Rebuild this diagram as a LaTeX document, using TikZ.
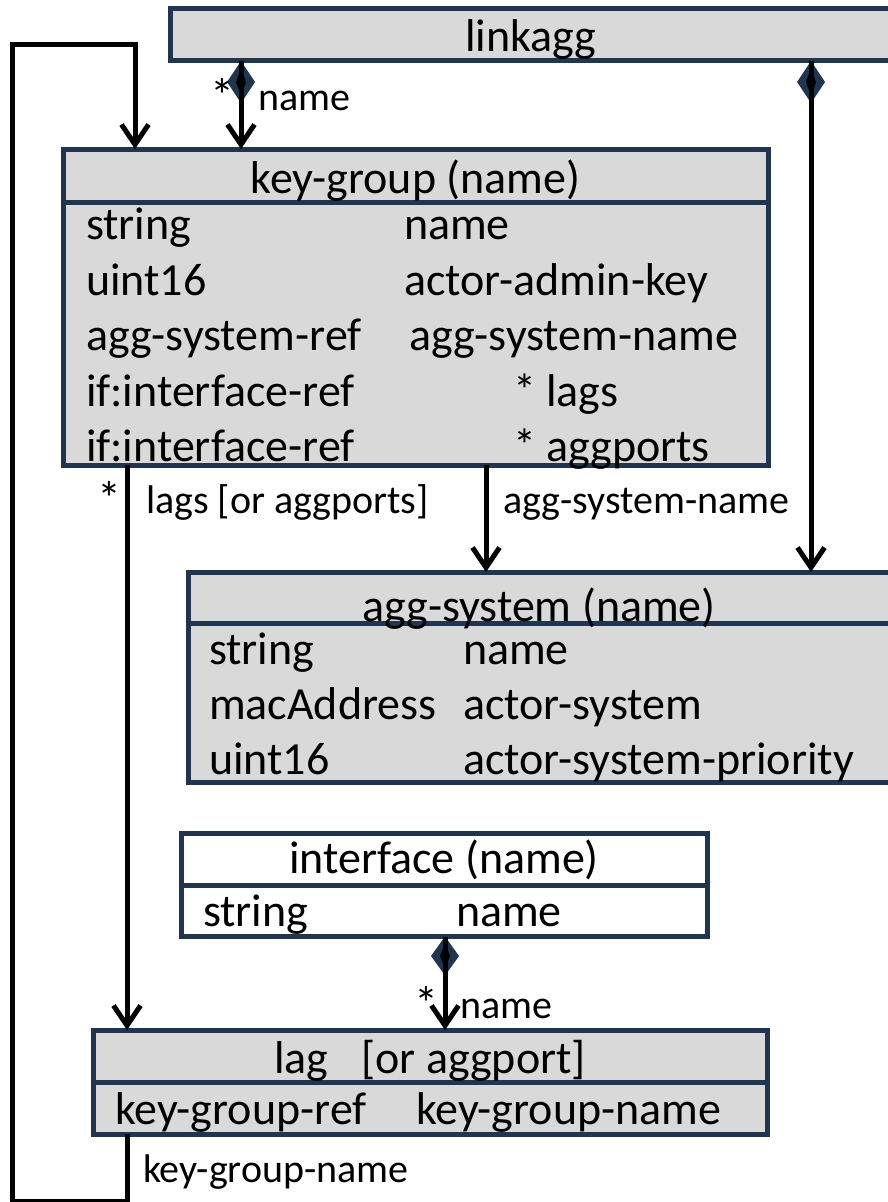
\documentclass[tikz,border=0pt]{standalone}
\usepackage{fontspec}
\setmainfont{Carlito}
\usetikzlibrary{arrows.meta,shapes.geometric}
\definecolor{navy}{RGB}{31,53,80}
\definecolor{boxgray}{RGB}{217,217,217}
\begin{document}
\begin{tikzpicture}[x=1pt,y=-1pt,
  box/.style={draw=navy, line width=5pt, fill=boxgray, anchor=north west, inner sep=0pt, outer sep=0pt},
  wbox/.style={box, fill=white},
  txt/.style={font=\fontsize{46}{50}\selectfont, anchor=base west, inner sep=0pt, outer sep=0pt},
  ctxt/.style={font=\fontsize{46}{50}\selectfont, anchor=base, inner sep=0pt, outer sep=0pt},
  lbl/.style={font=\fontsize{40}{44}\selectfont, anchor=base west, inner sep=0pt, outer sep=0pt},
  star/.style={font=\fontsize{48}{50}\selectfont, anchor=base west, inner sep=0pt, outer sep=0pt},
  conn/.style={draw=black, line width=5pt},
  arr/.style={conn, -{Straight Barb[length=20pt,width=27pt]}},
  comp/.style={diamond, fill=navy, inner sep=0pt, outer sep=0pt, minimum width=28pt, minimum height=42pt},
  compin/.style={diamond, fill=black, inner sep=0pt, outer sep=0pt, minimum width=10pt, minimum height=28pt},
]
\useasboundingbox (0,0) rectangle (888,1202);

% boxes
\node[box, minimum width=722pt, minimum height=51.5pt] (la) at (170,8.5) {};
\node[box, minimum width=705pt, minimum height=53pt] (kg) at (63,149) {};
\node[box, minimum width=705pt, minimum height=263pt] (kgb) at (63,202) {};
\node[box, minimum width=704pt, minimum height=51pt] (ash) at (188,572) {};
\node[box, minimum width=704pt, minimum height=159pt] (asb) at (188,623) {};
\node[wbox, minimum width=526pt, minimum height=52pt] (ifh) at (181,833) {};
\node[wbox, minimum width=526pt, minimum height=51pt] (ifb) at (181,885) {};
\node[box, minimum width=674pt, minimum height=52pt] (lag) at (93,1030) {};
\node[box, minimum width=674pt, minimum height=52pt] (lagb) at (93,1082) {};

% texts
\node[ctxt] (tla) at (531,51) {linkagg};
\node[ctxt] (tkg) at (415.5,193) {key-group (name)};
\node[txt] (k1a) at (86,239) {string};
\node[txt] (k1b) at (404,239) {name};
\node[txt] (k2a) at (86,295) {uint16};
\node[txt] (k2b) at (404,295) {actor-admin-key};
\node[txt] (k3a) at (86,350) {agg-system-ref};
\node[txt] (k3b) at (409,350) {agg-system-name};
\node[txt] (k4a) at (86,406) {if:interface-ref};
\node[txt] (k4b) at (513,406) {* lags};
\node[txt] (k5a) at (86,461) {if:interface-ref};
\node[txt] (k5b) at (513,461) {* aggports};

\node[ctxt] (tas) at (539,621) {agg-system (name)};
\node[txt] (a1a) at (209,664) {string};
\node[txt] (a1b) at (463,664) {name};
\node[txt] (a2a) at (209,719) {macAddress};
\node[txt] (a2b) at (463,719) {actor-system};
\node[txt] (a3a) at (209,774) {uint16};
\node[txt] (a3b) at (463,774) {actor-system-priority};

\node[ctxt] (tif) at (444,873) {interface (name)};
\node[txt] (i1a) at (203,926) {string};
\node[txt] (i1b) at (456,926) {name};

\node[ctxt] (tlag) at (430,1073) {lag\hspace{33pt}[or aggport]};
\node[txt] (l1a) at (115,1124) {key-group-ref};
\node[txt] (l1b) at (416,1124) {key-group-name};

% helper coordinates
\coordinate (aggx) at (486,500);
\coordinate (lagx) at (127,500);
\coordinate (loop1) at (127,1201);
\coordinate (loop2) at (12,1201);
\coordinate (loop3) at (12,44);
\coordinate (loop4) at (135,44);

% diamonds
\node[comp] (dA) at (241,82) {};
\node[comp] (dB) at (811,82) {};
\node[comp, minimum height=39pt] (dC) at (445,956) {};

% connectors
\draw[arr] (dA.north) -- (dA.north |- kg.north);
\draw[arr] (dB.north) -- (dB.north |- ash.north);
\draw[arr] (kgb.south -| aggx) -- (aggx |- ash.north);
\draw[arr] (kgb.south -| lagx) -- (lagx |- lag.north);
\draw[arr] (dC.north) -- (dC.north |- lag.north);
\draw[arr] (lagb.south -| loop1) -- (loop1) -- (loop2) -- (loop3) -- (loop4) -- (loop4 |- kg.north);

\node[compin] (iA) at (dA) {};
\node[compin] (iB) at (dB) {};
\node[compin, minimum height=26pt] (iC) at (dC) {};

% labels
\node[star] (s1) at (210,112) {*};
\node[lbl] (n1) at (258,110) {name};
\node[star] (s2) at (97,515) {*};
\node[lbl] (n2) at (146,513) {lags [or aggports]};
\node[lbl] (n3) at (503,513) {agg-system-name};
\node[star] (s3) at (414,1020) {*};
\node[lbl] (n4) at (460,1018) {name};
\node[lbl] (n5) at (143,1182) {key-group-name};
\end{tikzpicture}
\end{document}
